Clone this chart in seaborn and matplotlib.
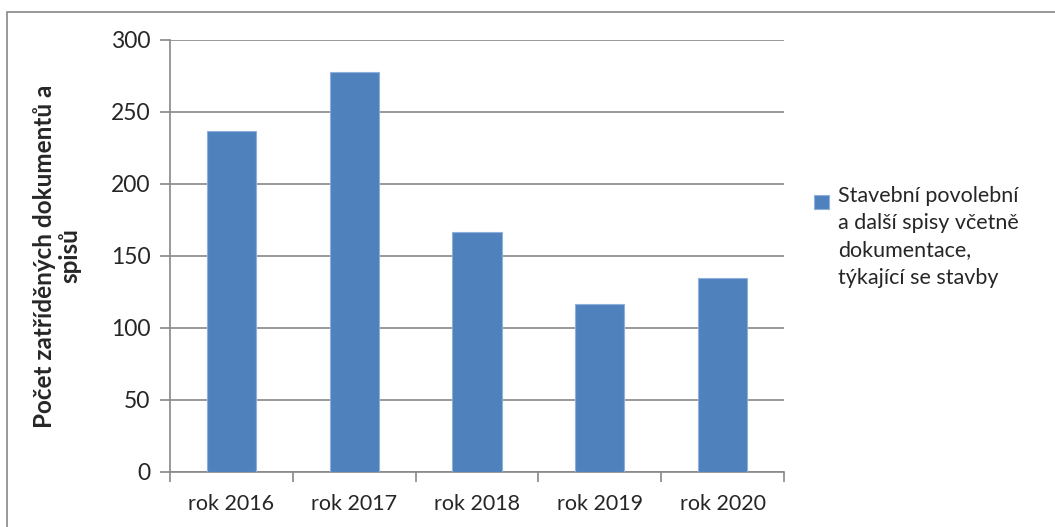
import matplotlib
matplotlib.use('Agg')
import matplotlib.pyplot as plt
import seaborn as sns
import pandas as pd
from matplotlib.patches import Rectangle

# data
years = ['rok 2016', 'rok 2017', 'rok 2018', 'rok 2019', 'rok 2020']
counts = [237, 278, 167, 117, 135]
series_name = 'Stavební povolební\na další spisy včetně\ndokumentace,\ntýkající se stavby'

df = pd.DataFrame({'rok': years, 'pocet': counts})

sns.set_style('white')
plt.rcParams['font.family'] = ['Lato', 'DejaVu Sans']

fig = plt.figure(figsize=(10.55, 5.27), dpi=100)
ax = fig.add_axes([0.1611, 0.1044, 0.582, 0.8197])

sns.barplot(data=df, x='rok', y='pocet', color='#4F81BD', width=0.4,
            edgecolor='#8DB0DC', linewidth=0.8, saturation=1, ax=ax, zorder=3)

ax.set_ylim(0, 300)
ax.set_xlim(-0.5, len(years) - 0.5)
ax.set_yticks(range(0, 301, 50))
ax.tick_params(axis='y', labelsize=16.5, length=7, width=1.2, color='#888888',
               direction='out', left=True, pad=7)
ax.set_xticks(range(len(years)))
ax.set_xticklabels(years, fontsize=15.5)
ax.set_xticks([i - 0.5 for i in range(len(years) + 1)], minor=True)
ax.tick_params(axis='x', which='major', length=0, pad=16)
ax.tick_params(axis='x', which='minor', length=7, width=1.2, color='#888888',
               direction='out', bottom=True)

ax.yaxis.grid(True, color='#888888', linewidth=1.2, zorder=0)
ax.set_axisbelow(True)
for s in ['top', 'right']:
    ax.spines[s].set_visible(False)
for s in ['left', 'bottom']:
    ax.spines[s].set_color('#888888')
    ax.spines[s].set_linewidth(1.2)

ax.set_xlabel('')
ax.set_ylabel('Počet zatříděných dokumentů a\nspisů', fontsize=17.5,
              fontweight='bold', linespacing=1.1)
ax.yaxis.set_label_coords(-0.145, 0.5)

# legend drawn Excel-style: square next to the first text line
fig.patches.append(Rectangle((814 / 1055, 1 - 209 / 527), 15 / 1055, 14 / 527,
                             transform=fig.transFigure, facecolor='#4F81BD',
                             edgecolor='#8DB0DC', linewidth=0.8))
fig.text(838 / 1055, 1 - 186 / 527, series_name, fontsize=15.5,
         ha='left', va='top', linespacing=1.45)

# outer chart frame
fig.patches.append(Rectangle((7 / 1055, -0.01), 1.05, 1.0 - 12 / 527 + 0.01,
                             transform=fig.transFigure, fill=False,
                             edgecolor='#888888', linewidth=1.2))

fig.savefig('out.png', dpi=100)
